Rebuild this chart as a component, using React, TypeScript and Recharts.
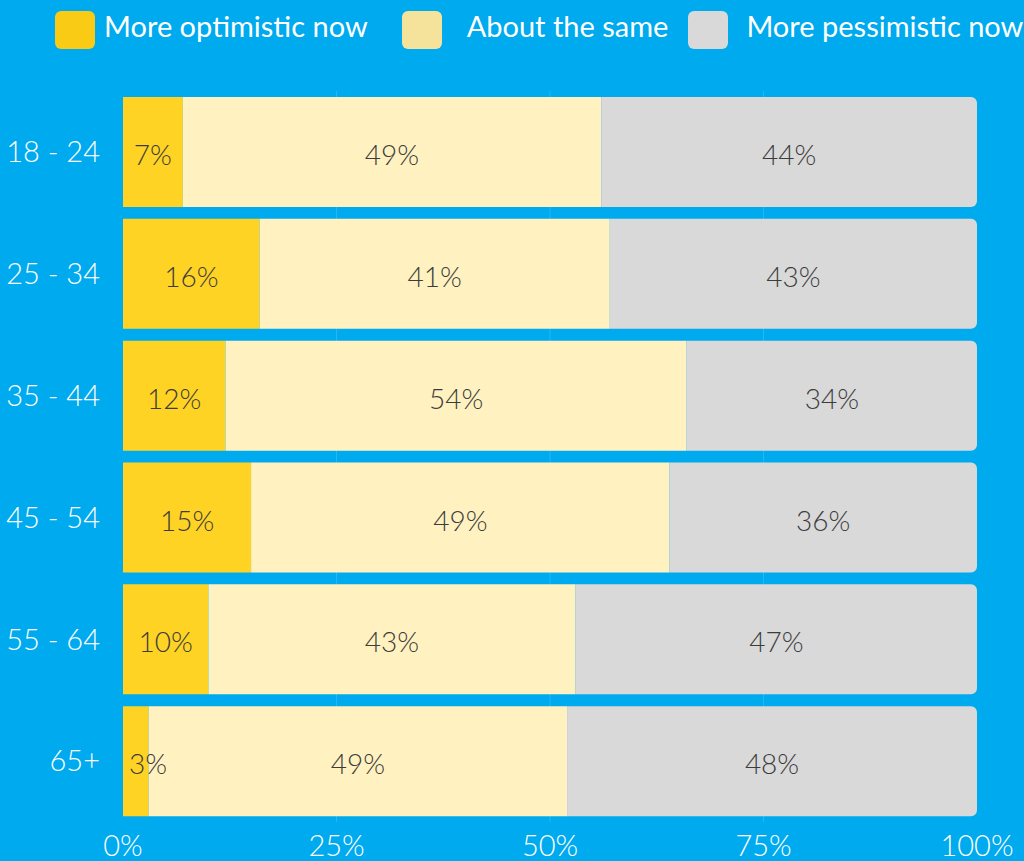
import React from 'react';
import { BarChart, Bar, XAxis, YAxis, CartesianGrid, Legend, LabelList } from 'recharts';

const categories = ['18 - 24', '25 - 34', '35 - 44', '45 - 54', '55 - 64', '65+'];
const optimistic = [7, 16, 12, 15, 10, 3];
const same = [49, 41, 54, 49, 43, 49];
const pessimistic = [44, 43, 34, 36, 47, 48];
const xTicks = [0, 25, 50, 75, 100];
const gridValues = [25, 50, 75];

const seriesNames = ['More optimistic now', 'About the same', 'More pessimistic now'];
const barColors = ['#FFD324', '#FFF2C0', '#D9D9D9'];
const legendColors = ['#F9CB14', '#F5E39B', '#D9D9D9'];

const data = categories.map((c, i) => ({
  category: c,
  optimistic: optimistic[i],
  same: same[i],
  pessimistic: pessimistic[i],
}));

const FONT = 'Lato, "Open Sans", sans-serif';

const renderLabel = (props: any) => {
  const { x, y, width, height, value } = props;
  const cx = Math.max(Number(x) + Number(width) / 2, Number(x) + 25);
  return (
    <text
      x={cx}
      y={Number(y) + Number(height) / 2 + 2}
      textAnchor="middle"
      dominantBaseline="central"
      fill="#3c3c3c"
      fontFamily={FONT}
      fontWeight={300}
      fontSize={28}
    >
      {value}%
    </text>
  );
};

const legendItemMargins = [55, 34, 20];
const legendTextGaps = [9, 25, 18];

const renderLegend = () => (
  <div style={{ display: 'flex', alignItems: 'center', height: 60, fontFamily: FONT }}>
    {seriesNames.map((n, i) => (
      <div key={n} style={{ display: 'flex', alignItems: 'center', marginLeft: legendItemMargins[i] }}>
        <div
          style={{
            width: 40,
            height: 38,
            borderRadius: 6,
            background: legendColors[i],
            marginRight: legendTextGaps[i],
          }}
        />
        <span style={{ color: '#ffffff', fontSize: 29, whiteSpace: 'nowrap', position: 'relative', top: -5 }}>{n}</span>
      </div>
    ))}
  </div>
);

const gridGenerator = (props: any) => {
  const axis = props && props.xAxis;
  if (axis && typeof axis.scale === 'function') {
    return gridValues.map((v) => axis.scale(v));
  }
  const off = props.offset;
  return gridValues.map((v) => off.left + (off.width * v) / 100);
};

export default function App() {
  return (
    <div style={{ position: 'absolute', left: 0, top: 0, width: 1024, height: 861, background: '#00AAEE' }}>
      <BarChart
        width={1024}
        height={861}
        data={data}
        layout="vertical"
        margin={{ top: 31, right: 47, bottom: 0, left: 0 }}
        barCategoryGap={6}
      >
        <CartesianGrid
          horizontal={false}
          vertical={true}
          stroke="rgba(255,255,255,0.15)"
          verticalCoordinatesGenerator={gridGenerator}
        />
        <XAxis
          type="number"
          domain={[0, 100]}
          ticks={xTicks}
          tickFormatter={(v: number) => `${v}%`}
          axisLine={false}
          tickLine={false}
          tickSize={0}
          tickMargin={13}
          height={39}
          interval={0}
          tick={{ fill: '#ffffff', fontSize: 29, fontFamily: FONT, fontWeight: 300 }}
        />
        <YAxis
          type="category"
          dataKey="category"
          width={123}
          axisLine={false}
          tickLine={false}
          tickSize={0}
          tickMargin={23}
          tick={{ fill: '#ffffff', fontSize: 29, fontFamily: FONT, fontWeight: 300 }}
        />
        <Legend
          verticalAlign="top"
          align="left"
          content={renderLegend}
          wrapperStyle={{ top: 0, left: 0, width: 1024, height: 60 }}
        />
        <Bar dataKey="optimistic" name={seriesNames[0]} stackId="a" fill={barColors[0]} isAnimationActive={false}>
          <LabelList dataKey="optimistic" content={renderLabel} />
        </Bar>
        <Bar dataKey="same" name={seriesNames[1]} stackId="a" fill={barColors[1]} isAnimationActive={false}>
          <LabelList dataKey="same" content={renderLabel} />
        </Bar>
        <Bar
          dataKey="pessimistic"
          name={seriesNames[2]}
          stackId="a"
          fill={barColors[2]}
          radius={[0, 6, 6, 0]}
          isAnimationActive={false}
        >
          <LabelList dataKey="pessimistic" content={renderLabel} />
        </Bar>
      </BarChart>
    </div>
  );
}
